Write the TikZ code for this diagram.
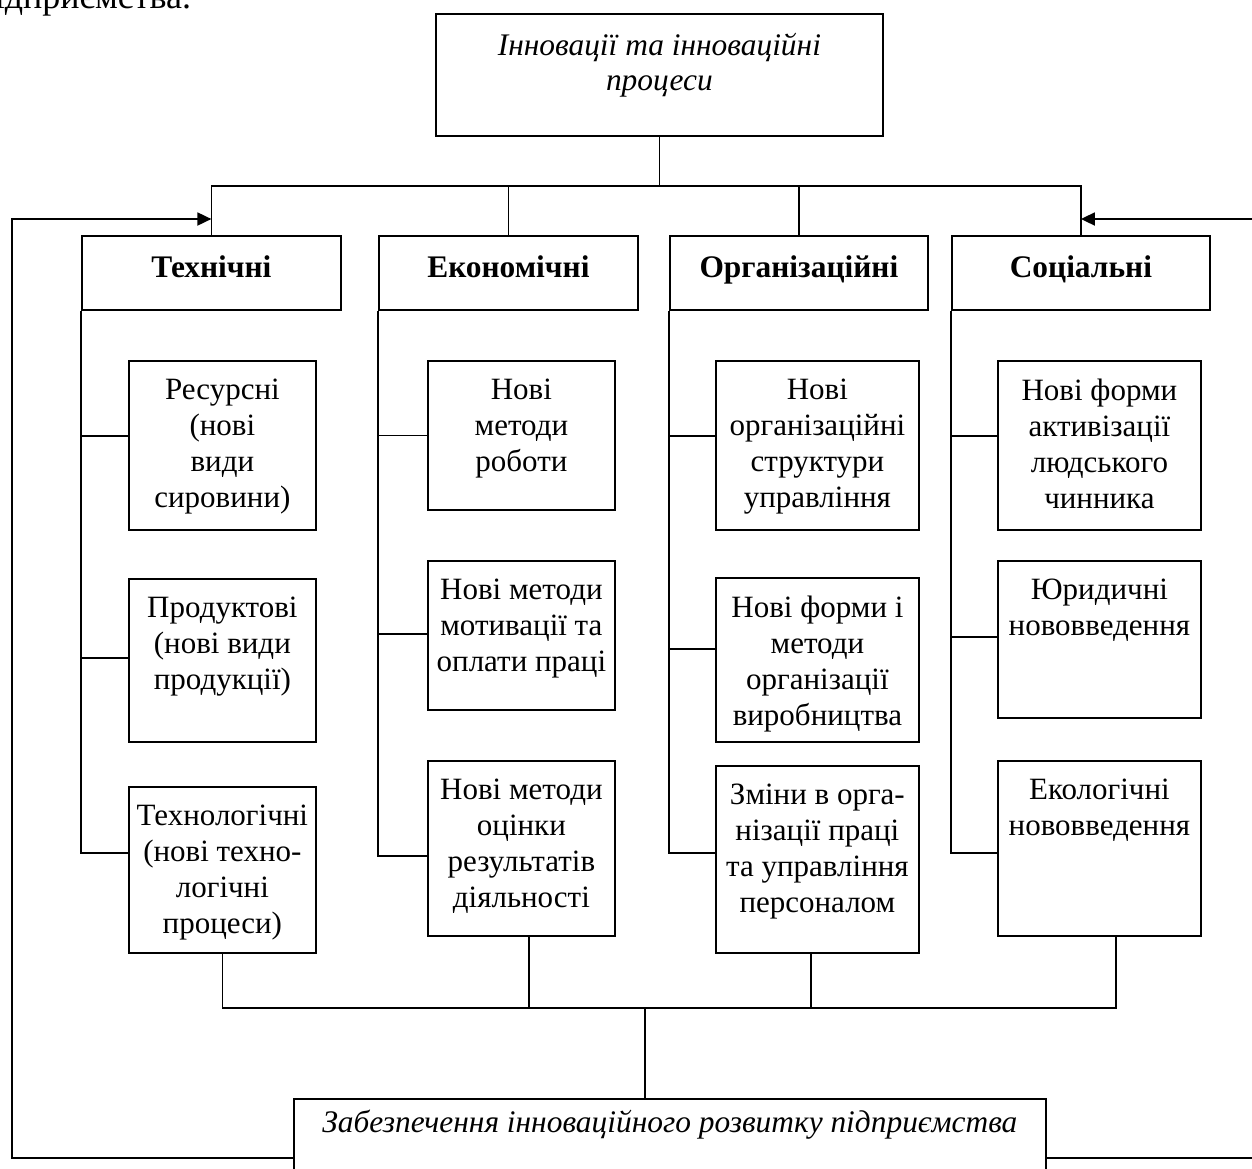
\documentclass[tikz,border=0pt]{standalone}
\usepackage{fontspec}
\setmainfont{Liberation Serif}
\usetikzlibrary{arrows.meta}

\tikzset{
	box/.style={draw, inner sep=0pt},
	txt/.style={align=center, inner sep=0pt, font=\fontsize{15.5}{18}\selectfont},
	head/.style={txt, font=\fontsize{15.7}{18}\selectfont\bfseries, text height=10pt, text depth=5pt},
	ital/.style={txt, font=\fontsize{15.7}{17.5}\selectfont\itshape},
	arr/.style={-{Triangle[length=7pt,width=6.5pt]}},
}
% name, x, y, width, height, text
\newcommand{\subbox}[6]{%
	\node[box, anchor=north west, minimum width=#4*0.5pt, minimum height=#5*0.5pt] (#1) at (#2,#3) {};
	\node[txt, anchor=north] (#1-t) at ([yshift=-9pt]#1.north) {#6};}
\newcommand{\headbox}[4]{%
	\node[box, head, anchor=north west, minimum width=#3*0.5pt, minimum height=74*0.5pt] (#1) at (#2,235) {#4};}

\begin{document}
\begin{tikzpicture}[x=0.5pt, y=-0.5pt, line width=0.9pt]
		%%%%% START %%%%%
		\useasboundingbox (0,0) rectangle (1252,1168);
		\clip (0,0) rectangle (1252,1168);
		
		\node[inner sep=0pt, anchor=base east, font=\fontsize{18}{22}\selectfont] (prev) at (192,8) {підприємства.};
		
		\node[box, anchor=north west, minimum width=447*0.5pt, minimum height=122*0.5pt] (top) at (435,13) {};
		\node[ital, anchor=north] (top-t) at ([yshift=-9.5pt]top.north) {Інновації та інноваційні\\процеси};
		
		\headbox{tech}{81}{259}{Технічні}
		\headbox{econ}{378}{259}{Економічні}
		\headbox{org}{669}{258}{Організаційні}
		\headbox{soc}{951}{258}{Соціальні}
		
		\subbox{t1}{128}{360}{187}{169}{Ресурсні\\(нові\\види\\сировини)}
		\subbox{t2}{128}{578}{187}{163}{Продуктові\\(нові види\\продукції)}
		\subbox{t3}{128}{786}{187}{166}{Технологічні\\(нові техно-\\логічні\\процеси)}
		
		\subbox{e1}{427}{360}{187}{149}{Нові\\методи\\роботи}
		\subbox{e2}{427}{560}{187}{149}{Нові методи\\мотивації та\\оплати праці}
		\subbox{e3}{427}{760}{187}{175}{Нові методи\\оцінки\\результатів\\діяльності}
		
		\subbox{o1}{715}{360}{203}{169}{Нові\\організаційні\\структури\\управління}
		\subbox{o2}{715}{577}{203}{164}{Нові форми і\\методи\\організації\\виробництва}
		\subbox{o3}{715}{765}{203}{187}{Зміни в орга-\\нізації праці\\та управління\\персоналом}
		
		\subbox{s1}{997}{360}{203}{169}{Нові форми\\активізації\\людського\\чинника}
		\subbox{s2}{997}{560}{203}{157}{Юридичні\\нововведення}
		\subbox{s3}{997}{760}{203}{175}{Екологічні\\нововведення}
		
		\node[box, anchor=north west, minimum width=752*0.5pt, minimum height=118*0.5pt] (bot) at (293,1098) {};
		\node[ital, anchor=north] (bot-t) at ([yshift=-5.5pt]bot.north) {Забезпечення інноваційного розвитку підприємства};
		
		% top bus
		\coordinate (busT) at ([yshift=-24.5pt]top.south);
		\draw (top.south) -- (busT);
		\draw (tech.north) |- (soc.north |- busT) -- (soc.north);
		\draw (econ.north) -- (econ.north |- busT);
		\draw (org.north) -- (org.north |- busT);
		
		% spines
		\draw (tech.south west) |- ([yshift=4.75pt]t1.west);
		\draw (tech.south west) |- ([yshift=1.25pt]t2.west);
		\draw (tech.south west) |- ([yshift=8.5pt]t3.west);
		\draw (econ.south west) |- (e1.west);
		\draw (econ.south west) |- ([yshift=0.75pt]e2.west);
		\draw (econ.south west) |- ([yshift=-3.75pt]e3.west);
		\draw (org.south west) |- ([yshift=4.75pt]o1.west);
		\draw (org.south west) |- ([yshift=5.5pt]o2.west);
		\draw (org.south west) |- ([yshift=3.25pt]o3.west);
		\draw (soc.south west) |- ([yshift=4.75pt]s1.west);
		\draw (soc.south west) |- ([yshift=1.25pt]s2.west);
		\draw (soc.south west) |- ([yshift=-2.25pt]s3.west);
		
		% bottom bus
		\coordinate (busB) at (645,1008);
		\coordinate (dE) at ([xshift=3.75pt]e3.south);
		\coordinate (dO) at ([xshift=-3.25pt]o3.south);
		\coordinate (dS) at ([xshift=8.25pt]s3.south);
		\draw (t3.south) |- (dS |- busB) -- (dS);
		\draw (dE) -- (dE |- busB);
		\draw (dO) -- (dO |- busB);
		\draw (busB) -- (bot.north -| busB);
		
		% feedback
		\coordinate (cornL) at (12,219);
		\coordinate (cornR) at (1290,219);
		\draw[arr] (bot.west) -| (cornL) -- (tech.north |- cornL);
		\draw[arr] (bot.east) -| (cornR) -- (soc.north |- cornR);
		%%%%% END %%%%%
\end{tikzpicture}
\end{document}
